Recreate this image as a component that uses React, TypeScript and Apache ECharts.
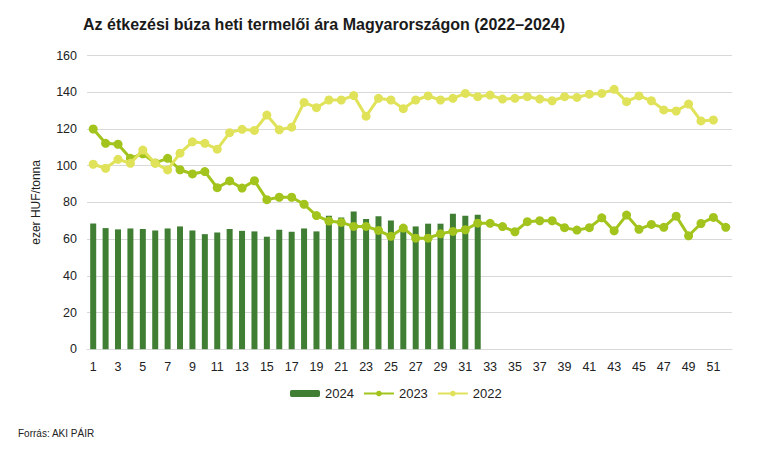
import React, { useEffect, useRef } from "react";
import * as echarts from "echarts";

const weeks: string[] = Array.from({ length: 52 }, (_, i) => String(i + 1));

const values2024: (number | null)[] = [
  68.5, 66, 65.3, 65.8, 65.5, 64.7, 65.8, 66.9, 64.7, 62.7, 63.6, 65.5, 64.5, 64.2, 61.3, 65.1,
  64, 65.8, 64.2, 72.7, 71.8, 75.1, 70.9, 72.4, 70.2, 67, 66.9, 68.4, 68.4, 73.8, 72.7, 73.3,
];

const values2023: (number | null)[] = [
  120, 112.2, 111.7, 104, 106.5, 101.5, 104, 97.8, 95.5, 96.8, 88, 91.7, 87.8, 91.8, 81.5, 82.8,
  82.8, 79, 72.8, 69.8, 69.1, 66.9, 66.9, 64.7, 61.5, 66, 60.5, 60.5, 62.9, 64.2, 65.1, 68.7,
  68.6, 66.8, 64, 69.5, 70, 70, 66.2, 64.9, 66.2, 71.6, 64.5, 73.1, 65.3, 68, 66.4, 72.5,
  61.8, 68.5, 71.8, 66.4,
];

const values2022: (number | null)[] = [
  100.8, 98.6, 103.5, 101.3, 108.5, 101.3, 97.7, 106.8, 113, 112.2, 109, 118, 119.8, 119.2, 127.6, 119.6,
  121, 134.5, 131.6, 135.8, 135.8, 138.2, 127, 136.7, 135.8, 131.1, 135.8, 138, 135.8, 136.7, 139.4, 137.6,
  138.5, 136.3, 136.7, 137.6, 136.3, 135.4, 137.6, 137.2, 139, 139.4, 141.6, 134.9, 138, 135.4, 130.4, 129.8,
  133.6, 124.4, 124.9, null,
];

const titleText = "Az étkezési búza heti termelői ára Magyarországon (2022–2024)";
const yAxisName = "ezer HUF/tonna";
const sourceText = "Forrás: AKI PÁIR";

const FONT = "'Liberation Sans', Arial, sans-serif";

export default function App() {
  const ref = useRef<HTMLDivElement>(null);
  useEffect(() => {
    if (!ref.current) return;
    const chart = echarts.init(ref.current, null, { renderer: "svg" });
    chart.setOption({
      animation: false,
      backgroundColor: "#ffffff",
      textStyle: { fontFamily: FONT },
      title: {
        text: titleText,
        left: 78,
        top: 11,
        textStyle: { fontFamily: FONT, fontSize: 16, fontWeight: "bold", color: "#1a1a1a" },
      },
      graphic: [
        {
          type: "text",
          left: 18,
          top: 428,
          style: { text: sourceText, fontFamily: FONT, fontSize: 10, fill: "#222" },
        },
      ],
      legend: {
        bottom: 45,
        left: 285,
        itemWidth: 30,
        itemHeight: 7,
        itemGap: 9,
        textStyle: { fontFamily: FONT, fontSize: 13, color: "#222" },
        data: ["2024", "2023", "2022"],
      },
      grid: { left: 87, right: 29, top: 55.6, bottom: 100.8, containLabel: false },
      xAxis: {
        type: "category",
        data: weeks,
        boundaryGap: true,
        axisTick: { show: false },
        axisLine: { lineStyle: { color: "#d9d9d9" } },
        axisLabel: { interval: 1, color: "#222", fontSize: 12.5, margin: 11, fontFamily: FONT },
      },
      yAxis: {
        type: "value",
        min: 0,
        max: 160,
        interval: 20,
        name: yAxisName,
        nameLocation: "middle",
        nameRotate: 90,
        nameGap: 45,
        nameTextStyle: { fontSize: 12, color: "#222", fontFamily: FONT },
        axisLine: { show: false },
        axisTick: { show: false },
        axisLabel: { color: "#222", fontSize: 12.5, margin: 10, fontFamily: FONT },
        splitLine: { lineStyle: { color: "#d9d9d9", width: 1 } },
      },
      series: [
        {
          name: "2024",
          type: "bar",
          data: values2024,
          barWidth: 6,
          itemStyle: { color: "#3f7e33" },
          z: 1,
        },
        {
          name: "2023",
          type: "line",
          data: values2023,
          symbol: "circle",
          symbolSize: 9,
          showSymbol: true,
          showAllSymbol: true,
          lineStyle: { width: 3, color: "#a2c41d" },
          itemStyle: { color: "#a2c41d" },
          z: 2,
        },
        {
          name: "2022",
          type: "line",
          data: values2022,
          symbol: "circle",
          symbolSize: 9,
          showSymbol: true,
          showAllSymbol: true,
          connectNulls: false,
          lineStyle: { width: 3, color: "#e0e35a" },
          itemStyle: { color: "#e0e35a" },
          z: 3,
        },
      ],
    });
    return () => chart.dispose();
  }, []);
  return (
    <div
      ref={ref}
      style={{ position: "fixed", left: 0, top: 0, width: 761, height: 450 }}
    />
  );
}
